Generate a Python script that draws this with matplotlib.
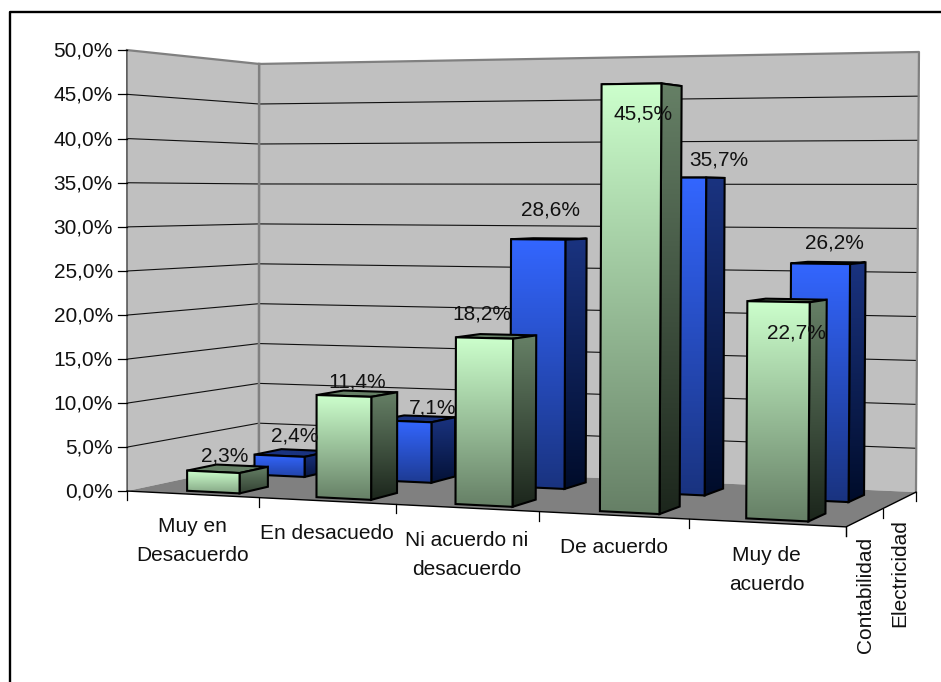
import numpy as np
import matplotlib
matplotlib.use('Agg')
import matplotlib.pyplot as plt
from matplotlib.patches import Polygon

plt.rcParams['font.family'] = ['Liberation Sans', 'DejaVu Sans']

# --- Data ---
categories = ['Muy en\nDesacuerdo', 'En desacuedo', 'Ni acuerdo ni\ndesacuerdo', 'De acuerdo', 'Muy de\nacuerdo']
series_names = ['Contabilidad', 'Electricidad']
contabilidad = [2.3, 11.4, 18.2, 45.5, 22.7]
electricidad = [2.4, 7.1, 28.6, 35.7, 26.2]
y_ticks = [0, 5, 10, 15, 20, 25, 30, 35, 40, 45, 50]
y_max = 50

# --- Layout ---
W, H = 941, 682
FS = 15
# (category, depth, height) in 0..1 -> pixel, used to fit the Excel-like camera
anchors = [((0, 0, 0), (127, 491)), ((0, 0, 1), (127, 50)), ((0, 1, 0), (259, 463)),
           ((0, 1, 1), (259, 64)), ((1, 1, 0), (916, 492)), ((1, 1, 1), (919, 52)),
           ((1, 0, 0), (846, 527))]
green_centres = [0.114, 0.309, 0.51, 0.71, 0.904]
blue_centres = [0.107, 0.304, 0.503, 0.704, 0.902]
bar_half = 0.04
green_depth = (0.085, 0.30)
blue_depth = (0.63, 0.85)
# label offset from the top centre of the bar's front face
green_offsets = [(11, -17), (13, -15), (-2, -25), (12, 29), (18, 30)]
blue_offsets = [(15, -21), (27, -14), (12, -30), (41, -19), (14, -22)]

rows = []
for (c, s, v), (x, y) in anchors:
    rows.append([c, s, v, 1, 0, 0, 0, 0, -x * c, -x * s, -x * v, -x])
    rows.append([0, 0, 0, 0, c, s, v, 1, -y * c, -y * s, -y * v, -y])
P = np.linalg.svd(np.array(rows, float))[2][-1].reshape(3, 4)


def proj(c, s, v):
    p = P @ np.array([c, s, v, 1.0])
    return p[0] / p[2], p[1] / p[2]


def poly(*pts):
    return [proj(*p) for p in pts]


def gradient_face(ax, pts, top, bottom, edge='black'):
    # vertical gradient clipped to the face, then the outline on top
    pts = np.array(pts)
    n = 128
    t = np.linspace(0, 1, n)[:, None, None]
    img = (1 - t) * np.array(top)[None, None, :] + t * np.array(bottom)[None, None, :]
    x0, x1 = pts[:, 0].min(), pts[:, 0].max()
    y0, y1 = pts[:, 1].min(), pts[:, 1].max()
    im = ax.imshow(img, extent=(x0, x1, y1, y0), aspect='auto', interpolation='bilinear', zorder=ax.zcount)
    clip = Polygon(pts, closed=True, transform=ax.transData, facecolor='none', edgecolor='none')
    ax.add_patch(clip)
    im.set_clip_path(clip)
    ax.add_patch(Polygon(pts, closed=True, fill=False, edgecolor=edge, linewidth=1.5,
                         joinstyle='miter', zorder=ax.zcount + 0.5))
    ax.zcount += 1


def draw_bar(ax, centre, depth, value, front_col, side_top, side_bottom):
    left, right = centre - bar_half, centre + bar_half
    s0, s1 = depth
    h = value / y_max
    # short bars never reach the darkest end of the fill
    k = min(1.0, 0.6 + 0.4 * value / 11)
    light = np.array(front_col)
    dark = light * (1 - 0.5 * k)
    side_end = np.array(side_top) + (np.array(side_bottom) - np.array(side_top)) * k
    top_face = poly((left, s0, h), (right, s0, h), (right, s1, h), (left, s1, h))
    gradient_face(ax, top_face, side_top, side_top)
    side = poly((right, s0, h), (right, s1, h), (right, s1, 0), (right, s0, 0))
    gradient_face(ax, side, side_top, side_end)
    front = poly((left, s0, h), (right, s0, h), (right, s0, 0), (left, s0, 0))
    gradient_face(ax, front, light, dark)
    return proj(centre, s0, h)


fig = plt.figure(figsize=(W / 100, H / 100), dpi=100, facecolor='white')
ax = fig.add_axes([0, 0, 1, 1])
ax.zcount = 10
ax.axis('off')

# outer frame, it runs off the picture on the right and at the bottom
ax.plot([9.7, 9.7, W + 5], [H + 5, 12.2, 12.2], color='black', lw=1.7, zorder=1)

# walls and floor
ax.add_patch(Polygon(poly((0, 0, 0), (0, 1, 0), (0, 1, 1), (0, 0, 1)), facecolor='#C0C0C0', edgecolor='none', zorder=2))
ax.add_patch(Polygon(poly((0, 1, 0), (1, 1, 0), (1, 1, 1), (0, 1, 1)), facecolor='#C0C0C0', edgecolor='none', zorder=2))
ax.add_patch(Polygon(poly((0, 0, 0), (1, 0, 0), (1, 1, 0), (0, 1, 0)), facecolor='#808080', edgecolor='none', zorder=3))

# gridlines on both walls
for t in y_ticks[1:-1]:
    v = t / y_max
    xs, ys = zip(*poly((0, 0, v), (0, 1, v), (1, 1, v)))
    ax.plot(xs, ys, color='#101010', lw=0.8, zorder=4)
xs, ys = zip(*poly((0, 0, 1), (0, 1, 1), (1, 1, 1), (1, 1, 0)))
ax.plot(xs, ys, color='#808080', lw=1.6, zorder=5)
xs, ys = zip(*poly((0, 1, 0), (0, 1, 1)))
ax.plot(xs, ys, color='#808080', lw=1.8, zorder=5)
xs, ys = zip(*poly((0, 0, 0), (0, 0, 1)))
ax.plot(xs, ys, color='#404040', lw=1.0, zorder=5)

# axes lines and ticks
xs, ys = zip(*poly((0, 0, 0), (1, 0, 0), (1, 1, 0)))
ax.plot(xs, ys, color='black', lw=1.0, zorder=6)
for t in y_ticks:
    x, y = proj(0, 0, t / y_max)
    ax.plot([x - 9, x], [y, y], color='black', lw=0.9, zorder=6)
    ax.text(x - 14, y + 1, f'{t:.1f}%'.replace('.', ','), ha='right', va='center', fontsize=FS, color='#111111')
for i in range(len(categories) + 1):
    x, y = proj(i / len(categories), 0, 0)
    ax.plot([x, x], [y, y + 9], color='black', lw=0.9, zorder=6)
for i in range(len(series_names) + 1):
    x, y = proj(1, i / len(series_names), 0)
    ax.plot([x, x], [y, y + 9], color='black', lw=0.9, zorder=6)
for i, name in enumerate(categories):
    x, y = proj((i + 0.5) / len(categories), 0, 0)
    ax.text(x, y + 23, name, ha='center', va='top', fontsize=FS, color='#111111', linespacing=1.67)
for i, name in enumerate(series_names):
    x, y = proj(1, (i + 0.5) / len(series_names), 0)
    ax.text(x, y + 19, name, ha='center', va='top', rotation=90, fontsize=FS, color='#111111')

# bars, back row first
GREEN = (0xCC / 255, 1.0, 0xCC / 255)
GREEN_SIDE = ((0x66 / 255, 0x80 / 255, 0x66 / 255), (0x1C / 255, 0x26 / 255, 0x1C / 255))
BLUE = (0x33 / 255, 0x66 / 255, 1.0)
BLUE_SIDE = ((0x1A / 255, 0x33 / 255, 0x80 / 255), (0x00 / 255, 0x0C / 255, 0x2A / 255))

labels = []
for i, val in enumerate(electricidad):
    x, y = draw_bar(ax, blue_centres[i], blue_depth, val, BLUE, *BLUE_SIDE)
    labels.append((x + blue_offsets[i][0], y + blue_offsets[i][1], val))
for i, val in enumerate(contabilidad):
    x, y = draw_bar(ax, green_centres[i], green_depth, val, GREEN, *GREEN_SIDE)
    labels.append((x + green_offsets[i][0], y + green_offsets[i][1], val))
for x, y, val in labels:
    ax.text(x, y + 1, f'{val:.1f}%'.replace('.', ','), ha='center', va='center', fontsize=FS,
            color='#111111', zorder=100)

ax.set_xlim(0, W)
ax.set_ylim(H, 0)
fig.savefig('out.png', dpi=100)
